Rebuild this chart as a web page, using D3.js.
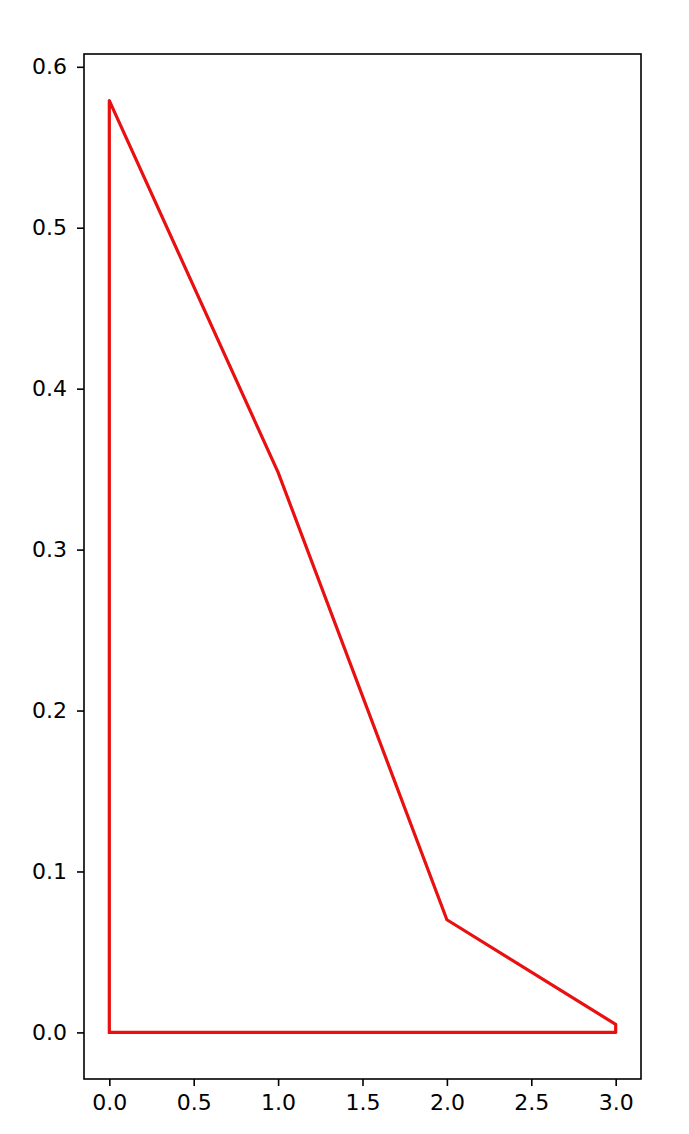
<!DOCTYPE html>
<html><head><meta charset="utf-8">
<script src="https://cdn.jsdelivr.net/npm/d3@7"></script>
<style>body{margin:0;background:#fff}</style>
</head><body>
<svg id="c" width="689" height="1134"></svg>
<script>
const xs = [0, 0, 1, 2, 3, 3, 0];
const ys = [0, 0.579, 0.348, 0.070, 0.005, 0, 0];
const xTicks = [0, 0.5, 1, 1.5, 2, 2.5, 3];
const yTicks = [0, 0.1, 0.2, 0.3, 0.4, 0.5, 0.6];

const svg = d3.select("#c");
const L = 84, R = 641, T = 54, B = 1079;
const x = d3.scaleLinear().domain([-0.15, 3.15]).range([L, R]);
const y = d3.scaleLinear().domain([-0.02895, 0.60795]).range([B, T]);
const font = "DejaVu Sans, sans-serif";

const pts = xs.map((v, i) => [v, ys[i]]);
svg.append("path")
  .attr("d", d3.line().x(d => x(d[0])).y(d => y(d[1]))(pts))
  .attr("fill", "none").attr("stroke", "#e81010").attr("stroke-width", 3.2)
  .attr("stroke-linejoin", "round").attr("stroke-linecap", "square");

const ax = svg.append("g").attr("transform", `translate(0,${B})`)
  .call(d3.axisBottom(x).tickValues(xTicks).tickFormat(d3.format(".1f")).tickSize(7).tickPadding(8));
const ay = svg.append("g").attr("transform", `translate(${L},0)`)
  .call(d3.axisLeft(y).tickValues(yTicks).tickFormat(d3.format(".1f")).tickSize(7).tickPadding(7));
[ax, ay].forEach(g => {
  g.select(".domain").remove();
  g.selectAll(".tick line").attr("stroke", "#000").attr("stroke-width", 1.6);
  g.selectAll(".tick text").attr("font-family", font).attr("font-size", 22).attr("fill", "#000");
});
ay.selectAll(".tick text").attr("x", -17);
svg.append("rect").attr("x", L).attr("y", T).attr("width", R - L).attr("height", B - T)
  .attr("fill", "none").attr("stroke", "#000").attr("stroke-width", 1.6);
</script>
</body></html>
